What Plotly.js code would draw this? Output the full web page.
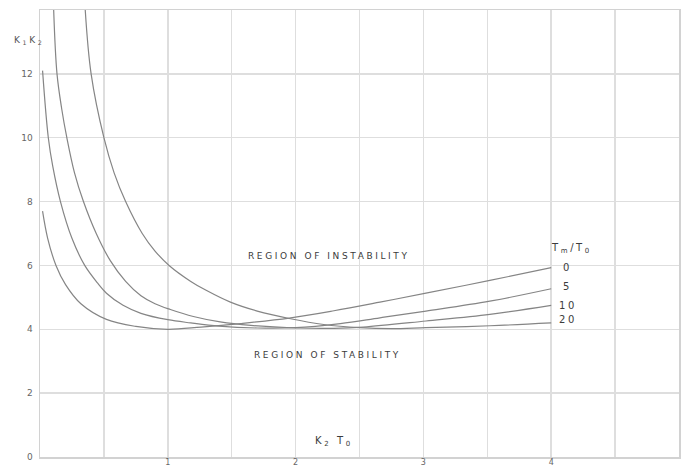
<!DOCTYPE html>
<html>
<head>
<meta charset="utf-8">
<script src="https://cdn.plot.ly/plotly-3.0.1.min.js"></script>
<style>
  html, body { margin: 0; padding: 0; background: #ffffff; }
  #chart { width: 691px; height: 468px; }
  .annotation-text { letter-spacing: 2.6px; }
</style>
</head>
<body>
<div id="chart"></div>
<script>
// Curve values (x = K2*T0, y = K1*K2), one curve per Tm/T0
const ratioLabels = ["0", "5", "10", "20"];

const x0 = [0.02, 0.06, 0.125, 0.2, 0.32, 0.52, 0.75, 1.0, 1.26, 1.57, 1.95, 2.3, 2.66, 3.02, 3.52, 4.0];
const y0 = [7.7, 6.85, 6.0, 5.4, 4.8, 4.31, 4.09, 4.0, 4.07, 4.18, 4.35, 4.58, 4.85, 5.13, 5.53, 5.93];

const x5 = [0.02, 0.065, 0.1, 0.16, 0.25, 0.35, 0.45, 0.52, 0.65, 0.79, 1.0, 1.18, 1.4, 1.7, 2.0, 2.35, 2.66, 3.02, 3.52, 4.0];
const y5 = [12.1, 10.0, 9.1, 8.0, 6.85, 6.0, 5.45, 5.13, 4.75, 4.5, 4.3, 4.2, 4.1, 4.04, 4.05, 4.18, 4.36, 4.57, 4.88, 5.27];

const x10 = [0.107, 0.133, 0.17, 0.21, 0.27, 0.34, 0.44, 0.55, 0.67, 0.79, 0.9, 1.02, 1.2, 1.41, 1.65, 2.0, 2.3, 2.53, 3.02, 3.52, 4.0];
const y10 = [14.0, 12.0, 10.9, 10.0, 8.9, 8.0, 7.0, 6.15, 5.5, 5.05, 4.8, 4.62, 4.4, 4.23, 4.12, 4.04, 4.03, 4.07, 4.26, 4.47, 4.75];

const x20 = [0.354, 0.4, 0.5, 0.58, 0.67, 0.8, 0.9, 1.01, 1.18, 1.3, 1.49, 1.7, 1.96, 2.22, 2.5, 2.75, 3.02, 3.52, 4.0];
const y20 = [14.0, 12.0, 10.0, 8.9, 8.0, 7.0, 6.45, 6.0, 5.5, 5.22, 4.85, 4.57, 4.33, 4.15, 4.05, 4.02, 4.05, 4.11, 4.2];

const xTickVals = [1, 2, 3, 4];
const xTickText = ["1", "2", "3", "4"];
const yTickVals = [0, 2, 4, 6, 8, 10, 12];
const yTickText = ["0", "2", "4", "6", "8", "10", "12"];

const curveColor = "#858585";
const seriesX = [x0, x5, x10, x20];
const seriesY = [y0, y5, y10, y20];

const traces = seriesX.map((xs, i) => ({
  x: xs,
  y: seriesY[i],
  type: "scatter",
  mode: "lines",
  name: ratioLabels[i],
  line: { color: curveColor, width: 1.2, shape: "spline", smoothing: 1 },
  hoverinfo: "skip"
}));

const labelFont = { family: "DejaVu Sans, sans-serif", size: 9, color: "#3c3c3c" };

const annotations = [
  { xref: "x", yref: "y", x: 2.26, y: 6.31, text: "REGION OF INSTABILITY", showarrow: false,
    font: labelFont },
  { xref: "x", yref: "y", x: 2.25, y: 3.19, text: "REGION OF STABILITY", showarrow: false,
    font: labelFont },
  { xref: "x", yref: "y", x: 2.3, y: 0.47, text: "K<sub>2</sub> T<sub>0</sub>", showarrow: false,
    font: { family: "DejaVu Sans, sans-serif", size: 10, color: "#3c3c3c" } },
  { xref: "paper", yref: "paper", x: -0.044, y: 0.948, xanchor: "left", text: "K<sub>1</sub>K<sub>2</sub>", showarrow: false,
    font: { family: "DejaVu Sans, sans-serif", size: 9, color: "#555555" } },
  { xref: "x", yref: "y", x: 4.16, y: 6.53, text: "T<sub>m</sub>/T<sub>0</sub>", showarrow: false,
    font: { family: "DejaVu Sans, sans-serif", size: 10, color: "#3c3c3c" } }
];

const labelY = [5.95, 5.35, 4.75, 4.31];
ratioLabels.forEach((t, i) => {
  annotations.push({ xref: "x", yref: "y", x: 4.13, y: labelY[i], text: t, showarrow: false,
    font: { family: "DejaVu Sans, sans-serif", size: 10, color: "#3c3c3c" } });
});

const gridStyle = { showgrid: true, gridcolor: "#dedede", gridwidth: 1.5 };

const layout = {
  width: 691,
  height: 468,
  margin: { l: 40, r: 12, t: 10, b: 11, pad: 0 },
  paper_bgcolor: "#ffffff",
  plot_bgcolor: "#ffffff",
  showlegend: false,
  xaxis: Object.assign({
    range: [0, 5],
    tickmode: "array",
    tickvals: xTickVals,
    ticktext: xTickText,
    minor: { dtick: 0.5, tick0: 0, showgrid: true, gridcolor: "#dedede", gridwidth: 1.5, ticks: "" },
    zeroline: false,
    showline: true,
    mirror: true,
    linecolor: "#d2d2d2",
    linewidth: 1.5,
    ticks: "",
    ticklabelstandoff: -3,
    tickfont: { family: "DejaVu Sans, sans-serif", size: 8, color: "#666666" }
  }, gridStyle),
  yaxis: Object.assign({
    range: [0, 14],
    tickmode: "array",
    tickvals: yTickVals,
    ticktext: yTickText,
    zeroline: false,
    showline: true,
    mirror: true,
    linecolor: "#d2d2d2",
    linewidth: 1.5,
    ticks: "",
    ticklabelstandoff: 4,
    tickfont: { family: "DejaVu Sans, sans-serif", size: 9, color: "#666666" }
  }, gridStyle),
  annotations: annotations
};

Plotly.newPlot("chart", traces, layout, { displayModeBar: false, staticPlot: true });
</script>
</body>
</html>
